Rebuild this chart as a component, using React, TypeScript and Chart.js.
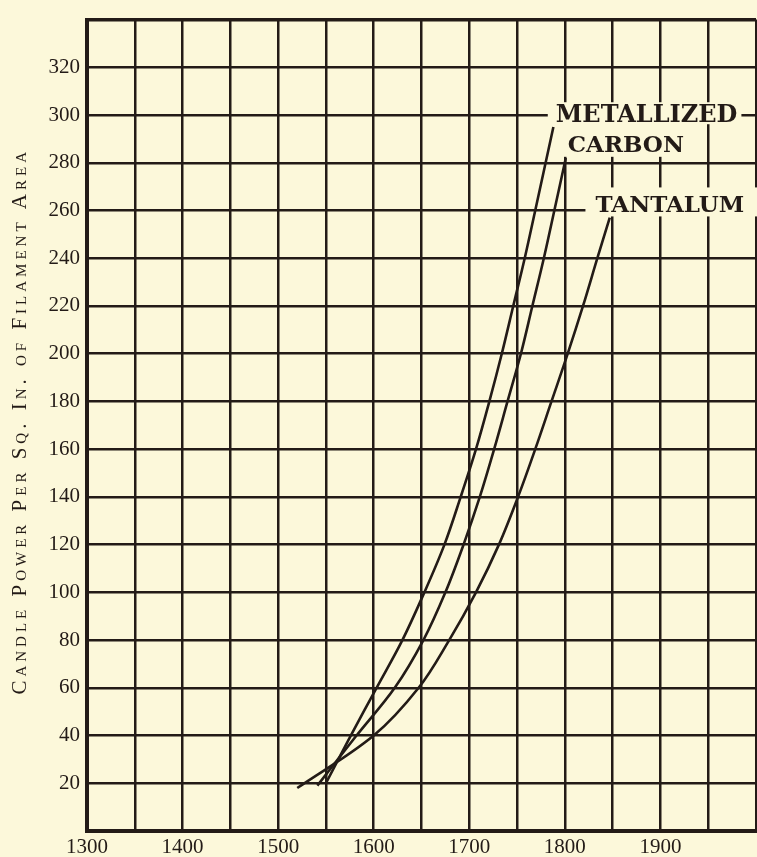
import React, { useEffect, useRef } from 'react';
import { Chart, registerables } from 'chart.js';

Chart.register(...registerables);

// ---- data ----
const metallizedX = [1550, 1576, 1603, 1630, 1653, 1674, 1691, 1707, 1721, 1734, 1746, 1758, 1769, 1788];
const metallizedY = [20, 40, 60, 80, 100, 120, 140, 160, 180, 200, 220, 240, 260, 295];
const carbonX = [1541, 1582, 1622, 1652, 1675, 1694, 1711, 1726, 1740, 1754, 1766, 1778, 1789, 1801];
const carbonY = [19, 40, 60, 80, 100, 120, 140, 160, 180, 200, 220, 240, 260, 282];
const tantalumX = [1520, 1600, 1647, 1679, 1707, 1731, 1751, 1769, 1786, 1803, 1819, 1834, 1847];
const tantalumY = [18, 40, 60, 80, 100, 120, 140, 160, 180, 200, 220, 240, 257];

const xTickLabels = [1300, 1400, 1500, 1600, 1700, 1800, 1900];
const yTickLabels = [20, 40, 60, 80, 100, 120, 140, 160, 180, 200, 220, 240, 260, 280, 300, 320];

const curveLabels = ['METALLIZED', 'CARBON', 'TANTALUM'];
const curveLabelX = [1790.5, 1803, 1832];
const curveLabelY = [297, 284.6, 259.2];

const yTitle = 'Candle Power Per Sq. In. of Filament Area';

const BG = '#fcf8da';
const INK = '#231b17';

const toPoints = (xs: number[], ys: number[]) => xs.map((v, i) => ({ x: v, y: ys[i] }));

// mask paddings around each label: [left, above baseline, right, below baseline, extendToRight]
const labelMasks: [number, number, number, number, boolean][] = [
  [8, 20, 4, 2, false],
  [7, 28, 7, 5, false],
  [10, 25, 0, 4, true],
];
const labelFontSizes = [24, 23, 23];

const overlayPlugin = {
  id: 'overlay',
  beforeDatasetsDraw(chart: any) {
    const { ctx, scales, chartArea } = chart;
    const xs = scales.x;
    const ys = scales.y;
    ctx.save();
    ctx.textAlign = 'left';
    ctx.textBaseline = 'alphabetic';
    curveLabels.forEach((t, i) => {
      ctx.font = `bold ${labelFontSizes[i]}px "DejaVu Serif"`;
      const px = xs.getPixelForValue(curveLabelX[i]);
      const py = ys.getPixelForValue(curveLabelY[i]);
      const w = ctx.measureText(t).width;
      const [pl, pa, pr, pb, ext] = labelMasks[i];
      const left = px - pl;
      const right = ext ? chartArea.right + 4 : px + w + pr;
      ctx.fillStyle = BG;
      ctx.fillRect(left, py - pa, right - left, pa + pb);
      ctx.fillStyle = INK;
      ctx.fillText(t, px, py);
    });
    ctx.restore();
  },
  afterDraw(chart: any) {
    const { ctx, chartArea } = chart;
    ctx.save();
    ctx.translate(26, (chartArea.top + chartArea.bottom) / 2 - 2);
    ctx.rotate(-Math.PI / 2);
    ctx.font = 'small-caps 21px "Liberation Serif"';
    try { (ctx as any).fontVariantCaps = 'small-caps'; } catch (e) {}
    try { (ctx as any).letterSpacing = '4px'; } catch (e) {}
    ctx.fillStyle = INK;
    ctx.textAlign = 'center';
    ctx.textBaseline = 'alphabetic';
    ctx.fillText(yTitle, 2, 0);
    ctx.restore();
  },
};

export default function App() {
  const ref = useRef<HTMLCanvasElement | null>(null);

  useEffect(() => {
    if (!ref.current) return;
    const lineDs = (data: { x: number; y: number }[]) => ({
      data,
      showLine: true,
      borderColor: INK,
      borderWidth: 2.6,
      pointRadius: 0,
      tension: 0.35,
      fill: false,
    });
    const chart = new Chart(ref.current, {
      type: 'scatter',
      data: {
        datasets: [
          lineDs(toPoints(metallizedX, metallizedY)),
          lineDs(toPoints(carbonX, carbonY)),
          lineDs(toPoints(tantalumX, tantalumY)),
        ],
      },
      options: {
        animation: false,
        responsive: false,
        devicePixelRatio: 1,
        layout: { padding: { top: 14, right: 2, left: 0, bottom: 0 } },
        plugins: { legend: { display: false }, tooltip: { enabled: false } },
        scales: {
          x: {
            type: 'linear',
            min: 1300,
            max: 2000,
            afterFit: (s: any) => { s.height = 26; },
            ticks: {
              stepSize: 50,
              padding: 4,
              color: INK,
              font: { family: '"Liberation Serif"', size: 21 },
              maxRotation: 0,
              autoSkip: false,
              callback: (v: any) => (xTickLabels.includes(Number(v)) ? String(v) : ''),
            },
            grid: { color: INK, lineWidth: 2.5, drawTicks: false },
            border: { color: INK, width: 4 },
          },
          y: {
            type: 'linear',
            min: 0,
            max: 340,
            afterFit: (s: any) => { s.width = 87; },
            ticks: {
              stepSize: 20,
              padding: 7,
              color: INK,
              font: { family: '"Liberation Serif"', size: 21 },
              autoSkip: false,
              callback: (v: any) => (yTickLabels.includes(Number(v)) ? String(v) : ''),
            },
            grid: {
              color: INK,
              lineWidth: (c: any) => (c.tick && c.tick.value === 340 ? 3.5 : 2.5),
              drawTicks: false,
            },
            border: { color: INK, width: 4 },
          },
        },
      },
      plugins: [overlayPlugin],
    });
    return () => chart.destroy();
  }, []);

  return (
    <div
      style={{
        position: 'fixed',
        left: 0,
        top: 0,
        width: 757,
        height: 857,
        overflow: 'hidden',
        background: BG,
      }}
    >
      <canvas ref={ref} width={760} height={857} style={{ display: 'block', width: 760, height: 857 }} />
    </div>
  );
}
